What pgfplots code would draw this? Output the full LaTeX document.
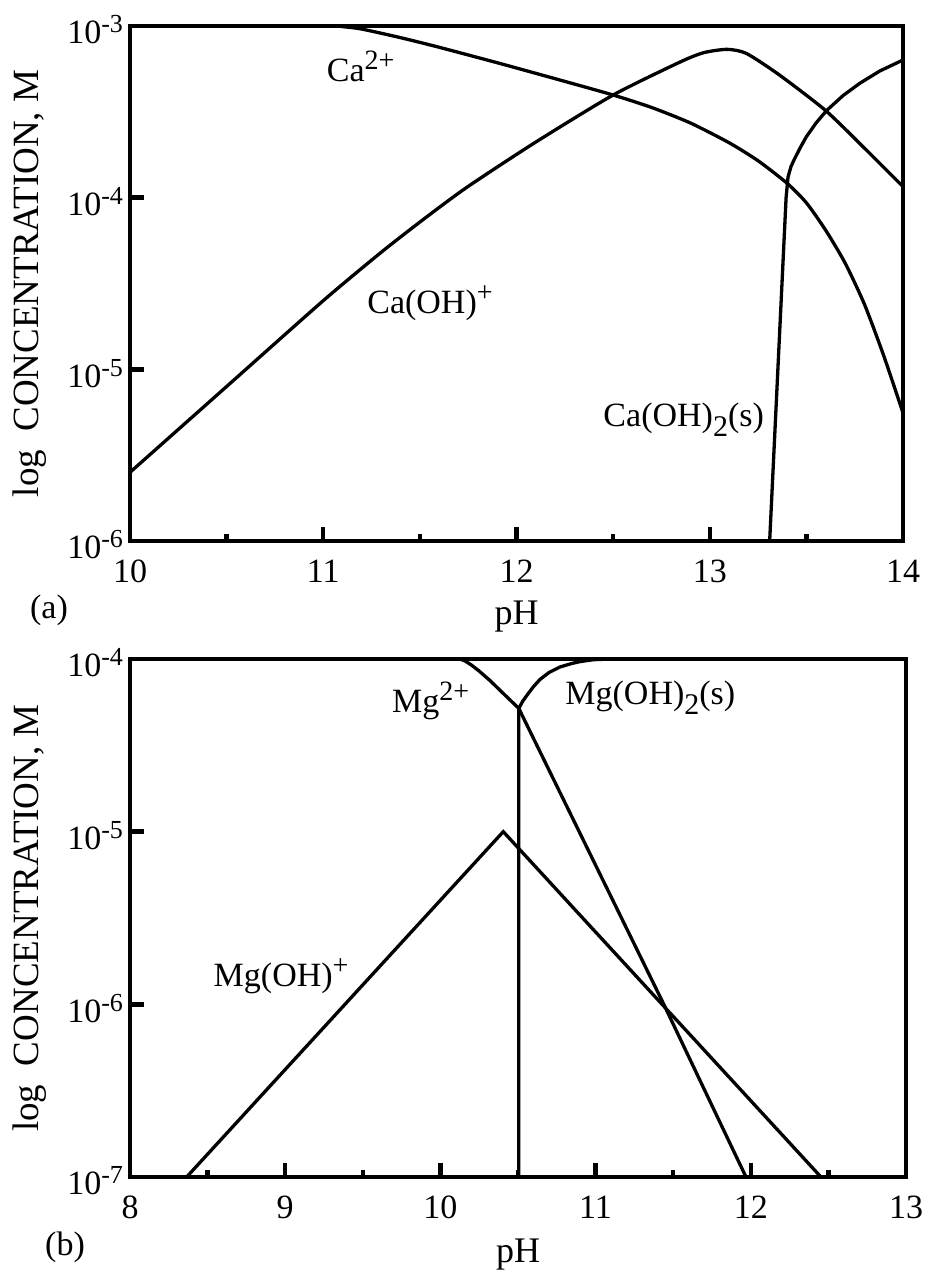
\documentclass[border=0pt]{standalone}
\usepackage{fontspec}
\setmainfont{Liberation Serif}
\usepackage{pgfplots}
\usepackage{pgfplotstable}
\pgfplotsset{compat=1.18}
\newcommand\spr[1]{\raisebox{5.5pt}{\fontsize{13}{15}\selectfont #1}}
\newcommand\lsup[1]{\raisebox{6pt}{\fontsize{14}{16}\selectfont #1}}
\newcommand\lsub[1]{\raisebox{-5pt}{\fontsize{15}{17}\selectfont #1}}
\tikzset{lbl/.style={anchor=base west, inner sep=0pt, font=\fontsize{17}{20}\selectfont}}
\pgfplotsset{
  crv/.style={black, line width=1.65pt, no marks},
  chem/.style={
    scale only axis,
    axis line style={line width=2pt, line cap=rect},
    tick pos=left,
    tick align=inside,
    major tick length=6.8pt,
    minor tick length=3.5pt,
    major tick style={line width=2.2pt, black},
    minor tick style={line width=2.2pt, black},
    minor x tick num=1,
    tick label style={font=\fontsize{17}{20}\selectfont},
    xticklabel shift=6pt,
    yticklabel style={yshift=-2pt},
    ylabel={log\hspace{0.5em}CONCENTRATION, M},
    xlabel={pH},
    xlabel style={font=\fontsize{18}{21}\selectfont, anchor=center},
  },
}
\pgfplotstableread{
pH logc
10.00 -3.000
11.00 -3.000
11.10 -3.004
11.20 -3.018
11.40 -3.068
11.60 -3.124
11.91 -3.217
12.20 -3.307
12.50 -3.402
12.70 -3.475
12.90 -3.565
13.10 -3.680
13.25 -3.785
13.40 -3.916
13.50 -4.030
13.60 -4.190
13.70 -4.380
13.80 -4.620
13.90 -4.920
14.00 -5.254
}\caion
\pgfplotstableread{
pH logc
10.00 -5.600
10.50 -5.100
11.00 -4.600
11.30 -4.318
11.52 -4.125
11.74 -3.942
12.09 -3.683
12.50 -3.402
12.85 -3.208
12.97 -3.155
13.09 -3.136
13.19 -3.160
13.36 -3.285
13.60 -3.493
13.81 -3.722
14.00 -3.936
}\caoh
\pgfplotstableread{
pH logc
13.310 -6.000
13.395 -4.000
13.405 -3.880
13.420 -3.820
13.436 -3.780
13.470 -3.705
13.500 -3.645
13.550 -3.565
13.604 -3.493
13.690 -3.405
13.776 -3.334
13.880 -3.262
14.000 -3.198
}\caohs
\pgfplotstableread{
pH logc
8.000 -4.000
10.126 -4.000
10.160 -4.012
10.200 -4.035
10.250 -4.070
10.320 -4.125
10.400 -4.195
10.505 -4.286
11.434 -5.990
11.969 -7.000
}\mgion
\pgfplotstableread{
pH logc
8.365 -7.000
10.405 -5.000
12.452 -7.000
}\mgoh
\pgfplotstableread{
pH logc
10.505 -7.000
10.505 -4.286
10.530 -4.245
10.556 -4.212
10.600 -4.160
10.642 -4.118
10.700 -4.078
10.771 -4.046
10.850 -4.025
10.900 -4.015
10.985 -4.004
11.100 -4.000
13.000 -4.000
}\mgohs
\begin{document}
\begin{tikzpicture}
\path[use as bounding box] (0,0) rectangle (463.5pt,-638.5pt);
% panel (a)
\begin{axis}[chem,
  at={(65pt,-270.5pt)}, anchor=south west,
  width=386.5pt, height=257.5pt,
  xmin=10, xmax=14, ymin=-6, ymax=-3,
  xtick={10,11,12,13,14}, xticklabels={10,11,12,13,14},
  ytick={-6,-5,-4,-3},
  yticklabels={10\spr{-6},10\spr{-5},10\spr{-4},10\spr{-3}},
  ylabel style={font=\fontsize{18.5}{22}\selectfont, at={(axis description cs:-0.1294,0.5)}, anchor=center},
  xlabel style={at={(axis description cs:0.5,-0.1476)}},
]
\addplot[crv, smooth, tension=0.4] table[x=pH, y=logc] {\caion};
\addplot[crv, smooth, tension=0.4] table[x=pH, y=logc] {\caoh};
\addplot[crv, sharp plot] table[x=pH, y=logc] {\caohs};
\node[lbl] at (axis cs:11.017,-3.324) {Ca\lsup{2+}};
\node[lbl] at (axis cs:11.226,-4.672) {Ca(OH)\lsup{+}};
\node[lbl] at (axis cs:12.448,-5.334) {Ca(OH)\lsub{2}(s)};
\end{axis}
% panel (b)
\begin{axis}[chem,
  at={(65pt,-588.5pt)}, anchor=south west,
  width=388pt, height=259pt,
  xmin=8, xmax=13, ymin=-7, ymax=-4,
  xtick={8,9,10,11,12,13}, xticklabels={8,9,10,11,12,13},
  ytick={-7,-6,-5,-4},
  yticklabels={10\spr{-7},10\spr{-6},10\spr{-5},10\spr{-4}},
  ylabel style={font=\fontsize{18.5}{22}\selectfont, at={(axis description cs:-0.1289,0.5)}, anchor=center},
  xlabel style={at={(axis description cs:0.5,-0.1506)}},
]
\addplot[crv, sharp plot] table[x=pH, y=logc] {\mgion};
\addplot[crv, sharp plot] table[x=pH, y=logc] {\mgoh};
\addplot[crv, sharp plot] table[x=pH, y=logc] {\mgohs};
\node[lbl] at (axis cs:9.686,-4.311) {Mg\lsup{2+}};
\node[lbl] at (axis cs:10.803,-4.266) {Mg(OH)\lsub{2}(s)};
\node[lbl] at (axis cs:8.537,-5.897) {Mg(OH)\lsup{+}};
\end{axis}
\node[font=\fontsize{17}{20}\selectfont] at (24.5pt,-305pt) {(a)};
\node[font=\fontsize{17}{20}\selectfont] at (32.5pt,-623.5pt) {(b)};
\end{tikzpicture}
\end{document}
